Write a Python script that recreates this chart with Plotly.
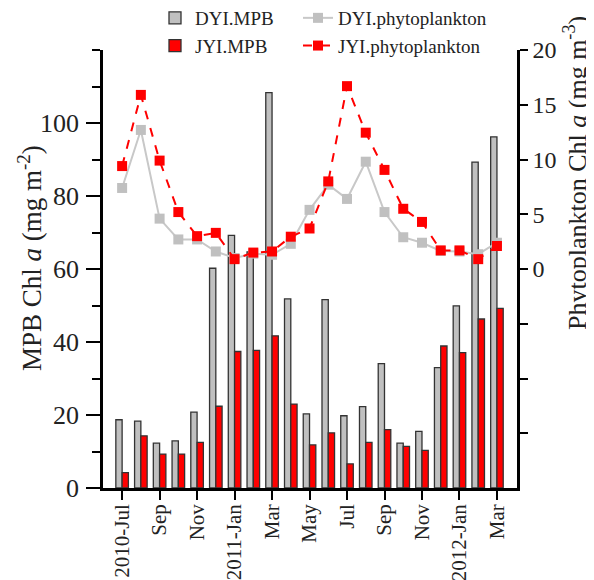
import plotly.graph_objects as go

months = ['2010-Jul', 'Aug', 'Sep', 'Oct', 'Nov', 'Dec', '2011-Jan', 'Feb', 'Mar', 'Apr', 'May',
          'Jun', 'Jul', 'Aug', 'Sep', 'Oct', 'Nov', 'Dec', '2012-Jan', 'Feb', 'Mar']
x_idx = list(range(len(months)))
tick_idx = x_idx[::2]
tick_labels = months[::2]

dyi_mpb = [18.7, 18.3, 12.3, 12.9, 20.8, 60.2, 69.2, 64.7, 108.3, 51.8, 20.3,
           51.6, 19.8, 22.3, 34.1, 12.3, 15.5, 33.0, 49.9, 89.3, 96.2]
jyi_mpb = [4.2, 14.3, 9.3, 9.3, 12.5, 22.4, 37.4, 37.7, 41.7, 23.0, 11.8,
           15.1, 6.6, 12.5, 16.0, 11.4, 10.3, 38.9, 37.1, 46.3, 49.2]
dyi_phyto = [7.4, 12.7, 4.6, 2.7, 2.7, 1.6, 1.0, 1.4, 1.3, 2.3, 5.4,
             7.7, 6.4, 9.8, 5.2, 2.9, 2.4, 1.65, 1.6, 1.35, 2.4]
jyi_phyto = [9.4, 15.9, 9.9, 5.2, 3.0, 3.3, 0.9, 1.5, 1.6, 2.95, 3.7,
             8.0, 16.7, 12.45, 9.05, 5.5, 4.3, 1.7, 1.7, 0.9, 2.1]

left_tickvals = [0, 20, 40, 60, 80, 100]
right_tickvals = [0, 5, 10, 15, 20]
right_minor_tickvals = [-15, -10, -5]

FONT = 'Liberation Serif'
OFF = 8  # page body margin
W, H = 594 - OFF, 580 - OFF
ML, MT = 103 - OFF, 50 - OFF
MR = W - (517 - OFF)
MB = H - (488 - OFF)
pw, ph = W - ML - MR, H - MT - MB


def px(xr):
    return (xr - OFF - ML) / pw


def py(yr):
    return (MT + ph - (yr - OFF)) / ph


fig = go.Figure()
fig.add_trace(go.Bar(x=x_idx, y=dyi_mpb, name='DYI.MPB', legend='legend',
                     marker=dict(color='#c0c0c0', line=dict(color='#333333', width=1.3))))
fig.add_trace(go.Bar(x=x_idx, y=jyi_mpb, name='JYI.MPB', legend='legend',
                     marker=dict(color='#ff0000', line=dict(color='#333333', width=1.3))))
fig.add_trace(go.Scatter(x=x_idx, y=dyi_phyto, name='DYI.phytoplankton', yaxis='y2', legend='legend2',
                         mode='lines+markers', line=dict(color='#c8c8c8', width=2),
                         marker=dict(symbol='square', size=10, color='#c0c0c0')))
fig.add_trace(go.Scatter(x=x_idx, y=jyi_phyto, name='JYI.phytoplankton', yaxis='y2', legend='legend2',
                         mode='lines+markers', line=dict(color='#ff0000', width=2, dash='dash'),
                         marker=dict(symbol='square', size=10, color='#ff0000')))

legfont = dict(family=FONT, size=19, color='#222222')

fig.update_layout(
    width=W, height=H,
    margin=dict(l=ML, r=MR, t=MT, b=MB, autoexpand=False),
    plot_bgcolor='white', paper_bgcolor='white',
    barmode='group', bargap=0.33, bargroupgap=0,
    font=dict(family=FONT, color='#222222'),
    xaxis=dict(range=[-1.02, 21.07], tickmode='array', tickvals=tick_idx, ticktext=tick_labels,
               tickangle=-90, ticks='outside', ticklen=9, tickwidth=2, tickcolor='black',
               ticklabelstandoff=-4,
               showline=True, linecolor='black', linewidth=2.5, showgrid=False, zeroline=False,
               tickfont=dict(family=FONT, size=21, color='#222222'), automargin=False),
    yaxis=dict(range=[0, 120], tickmode='array', tickvals=left_tickvals, ticks='outside', ticklen=14,
               tickwidth=2, tickcolor='black', showline=True, linecolor='black', linewidth=2.5,
               showgrid=False, zeroline=False, automargin=False, ticklabelstandoff=2,
               tickfont=dict(family=FONT, size=26, color='#222222'),
               minor=dict(tickmode='linear', dtick=10, tick0=10, ticks='outside', ticklen=8,
                          tickwidth=2, tickcolor='black')),
    yaxis2=dict(range=[-20, 20], overlaying='y', side='right', tickmode='array',
                tickvals=right_tickvals, ticks='outside', ticklen=8,
                tickwidth=2, tickcolor='black', showline=True, linecolor='black', linewidth=2.5,
                showgrid=False, zeroline=False, automargin=False,
                tickfont=dict(family=FONT, size=24, color='#222222'),
                minor=dict(tickmode='array', tickvals=right_minor_tickvals, ticks='outside',
                           ticklen=8, tickwidth=2, tickcolor='black')),
    legend=dict(x=px(155), y=py(-1), xanchor='left', yanchor='top',
                bgcolor='rgba(0,0,0,0)', font=legfont, tracegroupgap=0, orientation='v'),
    legend2=dict(x=px(298), y=py(-1), xanchor='left', yanchor='top',
                 bgcolor='rgba(0,0,0,0)', font=legfont, tracegroupgap=0, orientation='v'),
    annotations=[
        dict(text='MPB Chl <i>a</i> (mg m<sup>-2</sup>)', xref='paper', yref='paper',
             x=px(30), y=py(258), textangle=-90, showarrow=False,
             font=dict(family=FONT, size=27, color='#222222'), xanchor='center', yanchor='middle'),
        dict(text='Phytoplankton Chl <i>a</i> (mg m<sup>-3</sup>)', xref='paper', yref='paper',
             x=px(575), y=py(173), textangle=-90, showarrow=False,
             font=dict(family=FONT, size=26, color='#222222'), xanchor='center', yanchor='middle'),
    ],
)

fig.write_html('out.html')
